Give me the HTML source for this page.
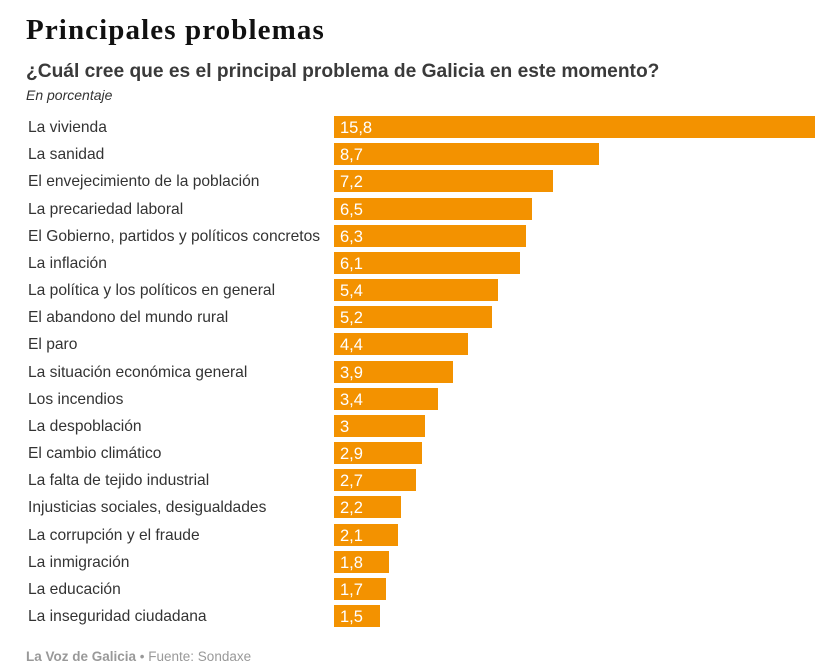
<!DOCTYPE html>
<html><head><meta charset="utf-8"><style>
body{margin:0;width:837px;height:672px;background:#fff;position:relative;overflow:hidden;font-family:"Liberation Sans",sans-serif}
.a{position:absolute;white-space:nowrap}
#title{left:26px;top:14px;font-family:"Liberation Serif",serif;font-weight:bold;font-size:29px;letter-spacing:1.1px;color:#111}
#sub{left:26px;top:61px;font-weight:bold;font-size:19.2px;color:#3a3a3a}
#unit{left:26px;top:87px;font-style:italic;font-size:14px;color:#333}
.lab{left:28px;font-size:15.6px;color:#333;line-height:22px;top:1px}
.bar{left:334px;height:22px;background:#f39200}
.val{color:#fff;font-size:16.5px;line-height:22px;padding-left:6px;padding-top:1px}
#foot{left:26px;top:649px;font-size:13.5px;color:#999}
</style></head><body>
<div class="a" id="title">Principales problemas</div>
<div class="a" id="sub">¿Cuál cree que es el principal problema de Galicia en este momento?</div>
<div class="a" id="unit">En porcentaje</div>
<div id="chart"></div>
<div class="a" id="foot"><b>La Voz de Galicia</b> • Fuente: Sondaxe</div>
<script>
const categories=["La vivienda","La sanidad","El envejecimiento de la población","La precariedad laboral","El Gobierno, partidos y políticos concretos","La inflación","La política y los políticos en general","El abandono del mundo rural","El paro","La situación económica general","Los incendios","La despoblación","El cambio climático","La falta de tejido industrial","Injusticias sociales, desigualdades","La corrupción y el fraude","La inmigración","La educación","La inseguridad ciudadana"];
const values=[15.8,8.7,7.2,6.5,6.3,6.1,5.4,5.2,4.4,3.9,3.4,3,2.9,2.7,2.2,2.1,1.8,1.7,1.5];
const chart=document.getElementById('chart');
const x=v=>v*481/15.8;
const y=i=>116+i*27.17;
categories.forEach((c,i)=>{
  const l=document.createElement('div');
  l.className='a lab';l.style.top=(y(i)+1)+'px';l.textContent=c;
  
  
  chart.appendChild(l);
  const b=document.createElement('div');
  b.className='a bar';b.style.top=y(i)+'px';b.style.width=x(values[i])+'px';
  
  
  const t=document.createElement('div');
  t.className='val';t.textContent=String(values[i]).replace('.',',');
  
  
  b.appendChild(t);
  chart.appendChild(b);
});
</script>
</body></html>
